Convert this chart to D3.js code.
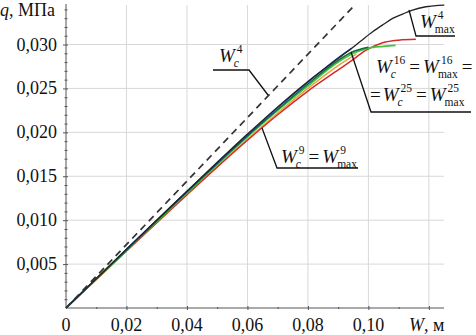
<!DOCTYPE html>
<html><head><meta charset="utf-8">
<script src="https://cdn.jsdelivr.net/npm/d3@7"></script>
<style>body{margin:0;background:#fff}svg{display:block}</style>
</head><body><svg id="c" width="476" height="335"></svg>
<script>
// ---- data ----
const xTicks = [0, 0.02, 0.04, 0.06, 0.08, 0.10];
const xTickLabels = ["0", "0,02", "0,04", "0,06", "0,08", "0,10"];
const yTicks = [0.005, 0.010, 0.015, 0.020, 0.025, 0.030];
const yTickLabels = ["0,005", "0,010", "0,015", "0,020", "0,025", "0,030"];
const dashedW = [0, 0.0955];
const dashedQ = [0, 0.0345];
const blackW = [0, 0.02, 0.04, 0.06, 0.07, 0.08, 0.088, 0.0931, 0.0975, 0.1014, 0.105, 0.108, 0.1115, 0.1146, 0.119, 0.1251];
const blackQ = [0, 0.0067, 0.0133, 0.0198, 0.0229, 0.0258, 0.0279, 0.0292, 0.0304, 0.03145, 0.0323, 0.03297, 0.0335, 0.03392, 0.0343, 0.03449];
const redW = [0, 0.02, 0.04, 0.06, 0.07, 0.08, 0.09, 0.0942, 0.099, 0.1047, 0.11, 0.1157];
const redQ = [0, 0.0065, 0.0129, 0.0191, 0.0220, 0.0247, 0.0271, 0.0281, 0.0293, 0.0302, 0.0305, 0.0306];
const orangeW = [0, 0.02, 0.04, 0.06, 0.07, 0.08, 0.09, 0.096];
const orangeQ = [0, 0.0065, 0.0129, 0.0192, 0.0222, 0.0250, 0.0276, 0.0289];
const greenW = [0, 0.02, 0.04, 0.06, 0.07, 0.08, 0.09, 0.095, 0.100, 0.105, 0.109];
const greenQ = [0, 0.0066, 0.0131, 0.0195, 0.0225, 0.0253, 0.0280, 0.0290, 0.0296, 0.0298, 0.0299];
const tealW = [0, 0.02, 0.04, 0.06, 0.07, 0.08, 0.09, 0.095, 0.100];
const tealQ = [0, 0.0066, 0.0132, 0.0196, 0.0226, 0.0255, 0.0282, 0.0292, 0.0297];
const blueW = [0, 0.02, 0.04, 0.06, 0.07, 0.08, 0.09, 0.0945];
const blueQ = [0, 0.0067, 0.0133, 0.0197, 0.0228, 0.0257, 0.0285, 0.0296];

const svg = d3.select("#c");
const x = d3.scaleLinear().domain([0, 0.125]).range([66, 444]);
const y = d3.scaleLinear().domain([0, 0.0345]).range([308, 5]);
const FONT = "'Liberation Serif','Times New Roman',serif";

// grid
const gridX = [0.02, 0.04, 0.06, 0.08, 0.10, 0.12];
svg.append("g").selectAll("line").data(gridX).join("line")
  .attr("x1", d => x(d)).attr("x2", d => x(d)).attr("y1", y(0)).attr("y2", 5)
  .attr("stroke", "#d8d8d8").attr("stroke-width", 1);
svg.append("g").selectAll("line").data(yTicks).join("line")
  .attr("x1", x(0)).attr("x2", x(0.125)).attr("y1", d => y(d)).attr("y2", d => y(d))
  .attr("stroke", "#d8d8d8").attr("stroke-width", 1);

// axes
const gx = svg.append("g").attr("transform", `translate(0,${y(0)-2})`)
  .call(d3.axisBottom(x).tickValues([0.02,0.04,0.06,0.08,0.10,0.12]).tickSize(4).tickFormat(""));
gx.select(".domain").remove();
const gxm = svg.append("g").attr("transform", `translate(0,${y(0)-1})`)
  .call(d3.axisBottom(x).tickValues([0.01,0.03,0.05,0.07,0.09,0.11]).tickSize(2).tickFormat(""));
gxm.select(".domain").remove();
svg.append("line").attr("x1", x(0)).attr("x2", x(0.125)).attr("y1", y(0)).attr("y2", y(0)).attr("stroke", "#555");
const minorY = d3.range(1, 35).map(i => i * 0.001).filter(v => Math.abs(v/0.005 - Math.round(v/0.005)) > 1e-6);
const gym = svg.append("g").attr("transform", `translate(${x(0)+1.5},0)`)
  .call(d3.axisLeft(y).tickValues(minorY).tickSize(3).tickFormat(""));
gym.select(".domain").remove();
const gy = svg.append("g").attr("transform", `translate(${x(0)+2},0)`)
  .call(d3.axisLeft(y).tickValues(yTicks).tickSize(5).tickFormat(""));
gy.select(".domain").remove();
svg.append("line").attr("x1", x(0)).attr("x2", x(0)).attr("y1", y(0)).attr("y2", 4).attr("stroke", "#555");
svg.selectAll(".tick line").attr("stroke", "#555");

// tick labels
svg.append("g").selectAll("text").data(yTicks).join("text")
  .attr("x", 57).attr("y", d => y(d) + 6).attr("text-anchor", "end")
  .attr("font-family", FONT).attr("font-size", 18).attr("fill", "#111")
  .text((d, i) => yTickLabels[i]);
svg.append("g").selectAll("text").data(xTicks).join("text")
  .attr("x", d => x(d)).attr("y", 331).attr("text-anchor", "middle")
  .attr("font-family", FONT).attr("font-size", 18).attr("fill", "#111")
  .text((d, i) => xTickLabels[i]);

// axis titles
const qt = svg.append("text").attr("x", 0).attr("y", 16).attr("font-family", FONT).attr("font-size", 18).attr("fill", "#111");
qt.append("tspan").attr("font-style", "italic").text("q");
qt.append("tspan").text(", МПа");
const wt = svg.append("text").attr("x", 409).attr("y", 331).attr("font-family", FONT).attr("font-size", 18).attr("fill", "#111");
wt.append("tspan").attr("font-style", "italic").text("W");
wt.append("tspan").text(", м");

// curves
const line = d3.line().x(d => x(d[0])).y(d => y(d[1])).curve(d3.curveMonotoneX);
function draw(ws, qs, color, width, dash) {
  const p = svg.append("path").datum(ws.map((w, i) => [w, qs[i]]))
    .attr("d", line).attr("fill", "none").attr("stroke", color).attr("stroke-width", width);
  if (dash) p.attr("stroke-dasharray", dash);
}
draw(orangeW, orangeQ, "#e8a33a", 1.5);
draw(redW, redQ, "#d42a2a", 1.5);
draw(greenW, greenQ, "#3ec43e", 1.8);
draw(tealW, tealQ, "#0d6b3e", 1.5);
draw(blueW, blueQ, "#1f3fa8", 1.3);
draw(blackW, blackQ, "#222", 1.3);
draw(dashedW, dashedQ, "#333", 1.7, "7,5");

// annotations
const BIG = 19, SMALL = 11.5;
function eq(x0, yb, parts) {
  const g = svg.append("g");
  let cx = x0;
  parts.forEach(p => {
    if (p.t !== undefined) {
      const t = g.append("text").attr("x", cx + (p.pl || 0)).attr("y", yb).attr("font-family", FONT)
        .attr("font-size", BIG).attr("fill", "#111").attr("font-style", p.it ? "italic" : "normal")
        .text(p.t);
      cx += t.node().getComputedTextLength() + (p.pl || 0) + (p.pr || 0);
    } else {
      let w = 0;
      const s = g.append("text").attr("x", cx + 2).attr("y", yb - 9).attr("font-family", FONT)
        .attr("font-size", SMALL).attr("fill", "#111").text(p.sup);
      w = Math.max(w, s.node().getComputedTextLength() + 2);
      const b = g.append("text").attr("x", cx - 1).attr("y", yb + 5).attr("font-family", FONT)
        .attr("font-size", SMALL).attr("fill", "#111").attr("font-style", p.sub === "c" ? "italic" : "normal").text(p.sub);
      w = Math.max(w, b.node().getComputedTextLength() - 1);
      cx += w + 1;
    }
  });
}
function leader(pts) {
  svg.append("path").attr("d", d3.line()(pts)).attr("fill", "none").attr("stroke", "#111").attr("stroke-width", 1.3);
}
const EQ = {t: "=", pl: 3, pr: 3};
eq(219, 62, [{t: "W", it: true}, {sup: "4", sub: "c"}]);
leader([[213, 70], [249, 70], [268, 95]]);
eq(420, 28, [{t: "W", it: true}, {sup: "4", sub: "max"}]);
leader([[409, 10], [416, 36], [455, 36]]);
eq(376, 73, [{t: "W", it: true}, {sup: "16", sub: "c"}, EQ, {t: "W", it: true}, {sup: "16", sub: "max"}, EQ]);
eq(370, 101, [{t: "=", pr: 2}, {t: "W", it: true}, {sup: "25", sub: "c"}, EQ, {t: "W", it: true}, {sup: "25", sub: "max"}]);
leader([[351, 52], [371, 112], [471, 112]]);
eq(281, 163, [{t: "W", it: true}, {sup: "9", sub: "c"}, EQ, {t: "W", it: true}, {sup: "9", sub: "max"}]);
leader([[262, 128], [277, 168], [358, 168]]);
</script></body></html>
